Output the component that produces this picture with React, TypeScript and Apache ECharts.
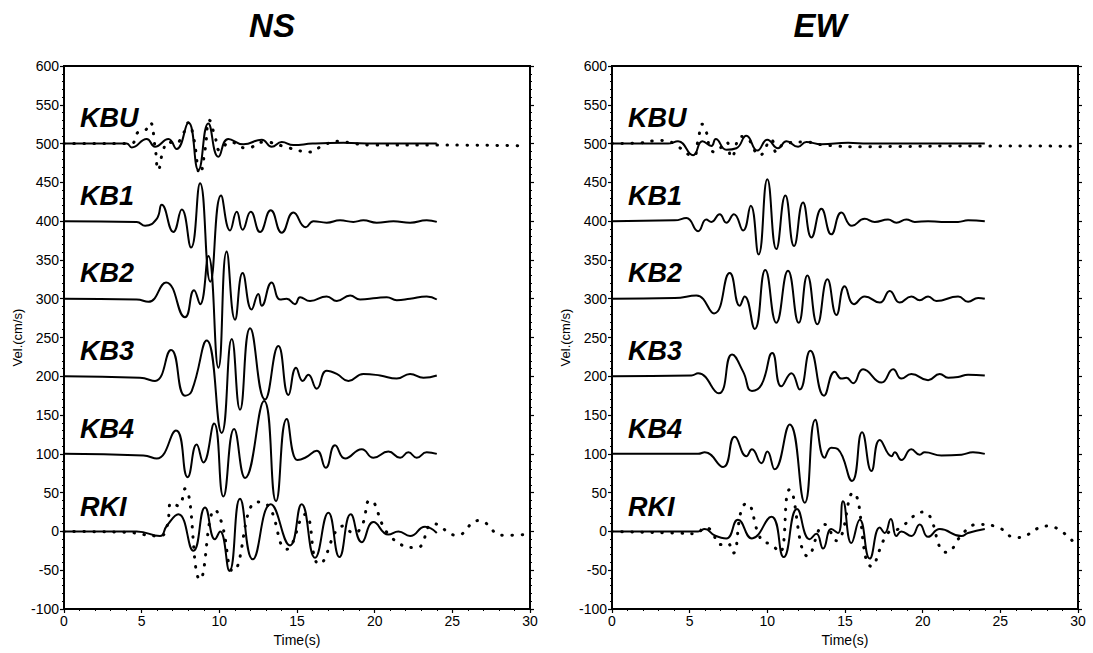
import React, { useEffect, useRef } from "react";
import * as echarts from "echarts";

// ---------- data (time s, velocity cm/s incl. trace offset) ----------
const PANEL_TITLES = ["NS", "EW"];
const STATIONS = ["KBU", "KB1", "KB2", "KB3", "KB4", "RKI"];
const X_MIN = 0;
const X_MAX = 30;
const X_STEP = 5;
const Y_MIN = -100;
const Y_MAX = 600;
const Y_STEP = 50;

const NS_KBU_SOLID = [[0,500],[4.04,500],[4.36,495],[5.32,506],[5.86,496],[6.72,506],[7.25,493],[8.01,527],[8.65,466],[9.29,526],[9.94,483],[10.58,506],[11.55,499],[12.73,505],[13.37,496],[14.02,502],[14.77,498],[16,500],[18,501],[20,500],[22,500],[24,500]];
const NS_KBU_DOT = [[0,500],[4.04,500],[4.36,500],[4.79,515],[5.22,517],[5.54,527],[5.86,496],[6.07,466],[6.4,492],[6.72,502],[7.15,500],[7.68,513],[8.01,527],[8.33,509],[8.76,461],[9.08,492],[9.36,530],[9.72,509],[10.05,491],[10.69,502],[11.76,494],[12.84,502],[14.55,494],[15.84,489],[16.7,498],[17.77,503],[18.63,500],[20,498],[24,498],[25.5,498],[29.8,497]];
const NS_KB1 = [[0,400],[4.68,399],[5.22,394],[5.97,403],[6.29,421],[7.04,386],[7.58,415],[8.18,366],[8.76,449],[9.42,322],[10.11,433],[10.69,388],[11.12,412],[11.5,389],[12.02,412],[12.62,386],[13.31,414],[14.02,385],[14.77,411],[15.56,392],[16.06,400],[16.91,398],[17.77,401],[18.63,399],[19.27,401],[20.13,398],[21.21,400],[22.28,398],[23.35,401],[24,399]];
const NS_KB2 = [[0,300],[4.68,299],[5.43,296],[6.57,321],[7.79,276],[8.37,311],[8.76,293],[9.29,355],[9.94,211],[10.47,361],[11.01,273],[11.5,333],[12.08,286],[12.51,306],[12.73,291],[13.37,321],[13.91,299],[14.34,300],[14.87,293],[15.2,302],[15.84,297],[16.91,303],[17.56,297],[18.42,304],[19.06,299],[20.13,301],[20.78,302],[21.42,298],[22.28,300],[23.35,303],[24,299]];
const NS_KB3 = [[0,200],[4.89,198],[5.86,194],[6.89,234],[7.79,175],[8.22,181],[9.19,246],[10.15,127],[10.8,248],[11.33,157],[11.98,262],[12.94,170],[13.8,239],[14.45,176],[14.94,211],[15.37,194],[15.73,202],[16.27,184],[16.91,207],[17.56,203],[18.31,194],[19.27,203],[20.35,201],[21.42,197],[22.28,203],[23.14,198],[24,201]];
const NS_KB4 = [[0,100],[5.11,98],[5.97,94],[7.21,130],[7.96,70],[8.54,112],[8.97,89],[9.66,139],[10.26,45],[10.95,132],[11.66,69],[12.88,168],[13.65,39],[14.34,145],[15.03,92],[15.52,95],[16.27,104],[16.85,82],[17.45,111],[18.1,94],[19.17,106],[19.92,95],[20.88,103],[21.64,95],[22.17,102],[22.71,95],[23.35,102],[24,100]];
const NS_RKI_SOLID = [[0,0],[4.68,0],[6.18,-6],[6.61,7],[7.36,22],[8.33,-25],[9.08,31],[9.72,-10],[10.05,0],[10.65,-51],[11.33,42],[12.15,-36],[13.31,35],[14.55,-18],[15.3,35],[16.16,-34],[17.02,24],[17.73,-33],[18.46,22],[19.17,-14],[19.92,12],[20.88,-4],[21.53,0],[22.28,-6],[23.24,6],[24,-2]];
const NS_RKI_DOT = [[0,0],[4.04,-1],[5.11,-4],[6.18,-6],[6.61,5],[6.93,37],[7.36,33],[7.79,55],[8.76,-62],[9.72,28],[10.15,11],[10.9,-51],[12.41,38],[13.05,35],[14.34,-23],[15.52,22],[16.44,-42],[18,7],[18.63,-2],[19.17,7],[19.7,40],[20.99,-6],[22.71,-21],[23.78,10],[25.28,-5],[26.68,14],[28.29,-5],[29.79,-4]];

const EW_KBU_SOLID = [[0,500],[3.61,500],[4.25,503],[5.22,485],[5.82,503],[6.4,497],[6.68,506],[7.36,492],[8.01,494],[8.65,510],[9.36,491],[10,505],[10.69,494],[11.23,503],[11.98,496],[12.51,502],[13.48,499],[15.2,501],[16.5,500],[24,500]];
const EW_KBU_DOT = [[0,500],[1.89,501],[2.96,504],[3.61,503],[4.25,496],[5.22,484],[5.54,504],[5.8,525],[6.07,515],[6.29,496],[6.61,489],[7.36,502],[7.68,482],[8.33,509],[8.76,506],[9.51,485],[10.26,505],[10.58,489],[11.12,500],[12.41,502],[13.69,498],[16.06,496],[24,497],[29.79,496.5]];
const EW_KB1 = [[0,400],[4.04,401],[4.79,404],[5.54,387],[6.07,402],[6.4,399],[6.93,409],[7.36,398],[7.85,409],[8.44,388],[8.93,420],[9.44,357],[10,454],[10.58,364],[11.16,433],[11.72,368],[12.3,424],[12.84,379],[13.48,416],[14.12,383],[14.77,411],[15.45,394],[16.27,403],[16.91,399],[17.77,402],[18.31,398],[18.95,402],[19.49,399],[20.35,400],[21.21,399],[22.28,399],[22.92,401],[24,400]];
const EW_KB2 = [[0,300],[4.04,301],[5.43,304],[6.57,281],[7.58,333],[8.22,291],[8.54,303],[9.19,261],[9.87,337],[10.58,269],[11.33,336],[12.02,269],[12.58,330],[13.22,267],[13.87,325],[14.45,279],[14.98,316],[15.58,293],[16.27,303],[17.24,295],[17.88,310],[18.52,295],[19.27,303],[19.81,298],[20.35,303],[20.88,297],[22.28,303],[22.92,296],[23.57,301],[24,300]];
const EW_KB3 = [[0,200],[5.11,201],[5.54,204],[6.87,178],[7.73,228],[8.44,206],[9.01,181],[9.62,189],[10.32,230],[10.9,187],[11.55,204],[12.08,183],[12.77,233],[13.65,175],[14.34,206],[14.77,197],[15.09,198],[15.52,191],[16.16,209],[17.35,192],[18.1,209],[18.63,197],[19.27,203],[20.35,195],[21.1,203],[21.64,198],[22.28,199],[22.92,202],[24,201]];
const EW_KB4 = [[0,100],[5.54,100],[5.97,102],[7.15,83],[7.9,122],[8.65,97],[9.01,106],[9.62,88],[10,103],[10.47,80],[11.44,138],[12.41,37],[13.09,144],[13.69,95],[14.12,108],[14.55,106],[15.45,65],[16.1,128],[16.7,78],[17.24,118],[18,97],[18.2,102],[18.63,92],[19.27,106],[19.81,99],[20.13,102],[21.21,98],[22.5,99],[23.24,102],[24,100]];
const EW_RKI_SOLID = [[0,0],[5.54,0],[5.97,3],[6.61,-5],[7.36,-9],[8.11,15],[9.01,-9],[10.26,19],[11.05,-33],[11.91,29],[12.73,-10],[13.16,-3],[13.59,-22],[14.12,3],[14.55,-2],[14.87,39],[15.41,-15],[15.95,15],[16.59,-35],[17.24,5],[17.56,-2],[17.95,16],[18.31,-6],[18.63,0],[19.27,-6],[19.81,9],[20.35,-7],[21.1,3],[22.5,-6],[22.92,-2],[24,3]];
const EW_RKI_DOT = [[0,0],[4.04,-2],[5.43,-3],[5.97,5],[6.29,3],[7.04,-17],[7.43,-15],[7.79,-28],[8.33,28],[8.65,36],[9.62,-11],[10.26,-17],[10.8,-27],[11.44,54],[12.62,-32],[13.69,9],[14.45,-12],[15.52,50],[16.7,-45],[17.77,-2],[18.42,3],[20.02,25],[21.53,-27],[22.71,0],[23.57,9],[24.64,7],[26.04,-8],[28.07,7],[28.93,0],[29.68,-13]];

const PANELS = [
  { solid: [NS_KBU_SOLID, NS_KB1, NS_KB2, NS_KB3, NS_KB4, NS_RKI_SOLID], dotted: [NS_KBU_DOT, NS_RKI_DOT] },
  { solid: [EW_KBU_SOLID, EW_KB1, EW_KB2, EW_KB3, EW_KB4, EW_RKI_SOLID], dotted: [EW_KBU_DOT, EW_RKI_DOT] },
];

const FONT = "'Liberation Sans', Arial, Helvetica, sans-serif";
const GRID_LEFTS = [64, 612];
const GRID_TOP = 66;
const GRID_W = 466;
const GRID_H = 543;

export default function App() {
  const ref = useRef<HTMLDivElement>(null);

  useEffect(() => {
    if (!ref.current) return;
    const chart = echarts.init(ref.current, null, { renderer: "svg" });

    const grids: any[] = [];
    const xAxes: any[] = [];
    const yAxes: any[] = [];
    const series: any[] = [];
    const graphics: any[] = [];

    PANELS.forEach((panel, p) => {
      grids.push({
        left: GRID_LEFTS[p], top: GRID_TOP, width: GRID_W, height: GRID_H,
        show: true, borderColor: "#000", borderWidth: 2, backgroundColor: "transparent",
      });
      xAxes.push({
        type: "value", gridIndex: p, min: X_MIN, max: X_MAX, interval: X_STEP,
        name: "Time(s)", nameLocation: "middle", nameGap: 22,
        nameTextStyle: { fontSize: 14, color: "#000", fontFamily: FONT },
        axisLine: { show: true, onZero: false, lineStyle: { color: "#000", width: 2 } },
        axisTick: { show: true, length: 4, lineStyle: { color: "#000", width: 1.2 } },
        minorTick: { show: true, splitNumber: 5, length: 2, lineStyle: { color: "#000", width: 1 } },
        axisLabel: { fontSize: 14, color: "#000", margin: 5, fontFamily: FONT },
        splitLine: { show: false },
      });
      yAxes.push({
        type: "value", gridIndex: p, min: Y_MIN, max: Y_MAX, interval: Y_STEP, position: "left",
        name: "Vel.(cm/s)", nameLocation: "middle", nameGap: 40,
        nameTextStyle: { fontSize: 13, color: "#000", fontFamily: FONT },
        axisLine: { show: true, onZero: false, lineStyle: { color: "#000", width: 2 } },
        axisTick: { show: true, length: 4, lineStyle: { color: "#000", width: 1.2 } },
        minorTick: { show: true, splitNumber: 5, length: 2, lineStyle: { color: "#000", width: 1 } },
        axisLabel: { fontSize: 14, color: "#000", margin: 5, fontFamily: FONT },
        splitLine: { show: false },
      });
      yAxes.push({
        type: "value", gridIndex: p, min: Y_MIN, max: Y_MAX, interval: Y_STEP, position: "right",
        axisLine: { show: true, onZero: false, lineStyle: { color: "#000", width: 2 } },
        axisTick: { show: true, length: 4, lineStyle: { color: "#000", width: 1.2 } },
        minorTick: { show: true, splitNumber: 5, length: 2, lineStyle: { color: "#000", width: 1 } },
        axisLabel: { show: false },
        splitLine: { show: false },
      });
      const yi = p * 2;
      panel.solid.forEach((d, i) => {
        series.push({
          type: "line", name: PANEL_TITLES[p] + " " + STATIONS[i], xAxisIndex: p, yAxisIndex: yi,
          data: d, showSymbol: false, smooth: 0.5, silent: true,
          lineStyle: { color: "#000", width: 2 },
        });
      });
      panel.dotted.forEach((d, i) => {
        series.push({
          type: "line", name: PANEL_TITLES[p] + " obs " + i, xAxisIndex: p, yAxisIndex: yi,
          data: d, showSymbol: false, smooth: 0.5, silent: true,
          lineStyle: { color: "#000", width: 3, type: [0.5, 9.5], cap: "round" },
        });
      });
      graphics.push({
        type: "text", x: GRID_LEFTS[p] + GRID_W / 2 - 25, y: 25,
        style: { text: PANEL_TITLES[p], font: "italic bold 33px " + FONT, fill: "#000", textAlign: "center", textVerticalAlign: "middle" },
      });
      STATIONS.forEach((s, i) => {
        graphics.push({
          type: "text", x: GRID_LEFTS[p] + 16, y: 118 + i * 77.7,
          style: { text: s, font: "italic bold 27px " + FONT, fill: "#000", textAlign: "left", textVerticalAlign: "middle" },
        });
      });
    });

    chart.setOption({
      animation: false,
      backgroundColor: "#fff",
      grid: grids,
      xAxis: xAxes,
      yAxis: yAxes,
      series,
      graphic: graphics,
    });
    return () => chart.dispose();
  }, []);

  return <div ref={ref} style={{ position: "absolute", left: 0, top: 0, width: 1093, height: 653 }} />;
}
